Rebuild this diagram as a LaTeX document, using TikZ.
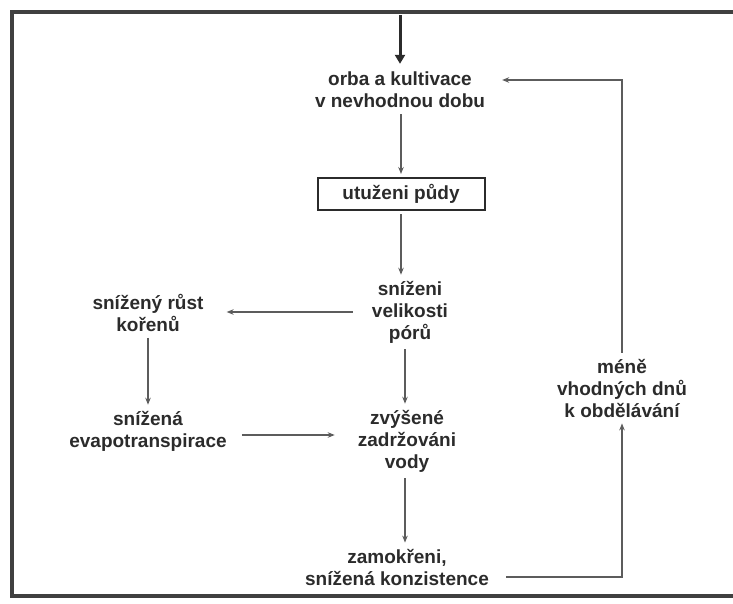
\documentclass[tikz,border=0pt]{standalone}
\usepackage{fontspec}
\setmainfont{Liberation Sans}
\usetikzlibrary{arrows.meta}
\definecolor{ink}{HTML}{2B2B2B}
\definecolor{linka}{HTML}{5C5C5C}
\begin{document}
\begin{tikzpicture}[x=1pt,y=-1pt,
   txt/.style={align=center,font=\bfseries\fontsize{19}{22}\selectfont,text=ink,inner sep=3pt},
   ar/.style={draw=linka,line width=1.2pt,-{Stealth[length=7pt,width=5.5pt]},shorten <=3pt,shorten >=3pt},
   topar/.style={draw=ink,line width=3pt,-{Triangle[length=9pt,width=10pt]},shorten >=5pt},
   frame/.style={draw=ink!90,line width=4pt}]
   \useasboundingbox (0,0) rectangle (733,603);
   \draw[frame] (733,12) -- (12,12) -- (12,596) -- (733,596);

   \coordinate (vstup) at (400,15);
   \node[txt] (orba) at (400,90) {orba a kultivace\\v nevhodnou dobu};
   \node[txt,draw=ink,line width=2pt,minimum width=167pt,minimum height=32pt] (utuzeni) at (401,194) {utuženi půdy};
   \node[txt] (snizeni) at (410,312) {sníženi\\velikosti\\pórů};
   \node[txt] (koreny) at (148,313) {snížený růst\\kořenů};
   \node[txt] (evapo) at (148,431) {snížená\\evapotranspirace};
   \node[txt] (zadrz) at (407,441) {zvýšené\\zadržováni\\vody};
   \node[txt] (zamokr) at (397,567) {zamokřeni,\\snížená konzistence};
   \node[txt] (mene) at (622,388) {méně\\vhodných dnů\\k obdělávání};

   \draw[topar] (vstup) -- (orba);
   \draw[ar] (orba.south -| utuzeni.north) -- (utuzeni.north);
   \draw[ar] (utuzeni.south) -- (utuzeni.south |- snizeni.north);
   \draw[ar,shorten <=16pt,shorten >=20pt] (snizeni.west) -- (snizeni.west -| koreny.east);
   \draw[ar] (koreny) -- (evapo);
   \draw[ar,shorten <=12pt,shorten >=20pt] ([yshift=-4pt]evapo.east) -- ([yshift=-4pt]evapo.east -| zadrz.west);
   \draw[ar] (snizeni.south -| zamokr.north) ++(8,0) -- ([xshift=8pt]zadrz.north -| zamokr.north);
   \draw[ar] (zadrz.south -| zamokr.north) ++(8,0) -- ([xshift=8pt]zamokr.north);
   \draw[ar,shorten <=14pt] ([yshift=-10pt]zamokr.east) -| (mene.south);
   \draw[ar,shorten >=14pt] (mene.north) |- ([yshift=10pt]orba.east);
\end{tikzpicture}
\end{document}
